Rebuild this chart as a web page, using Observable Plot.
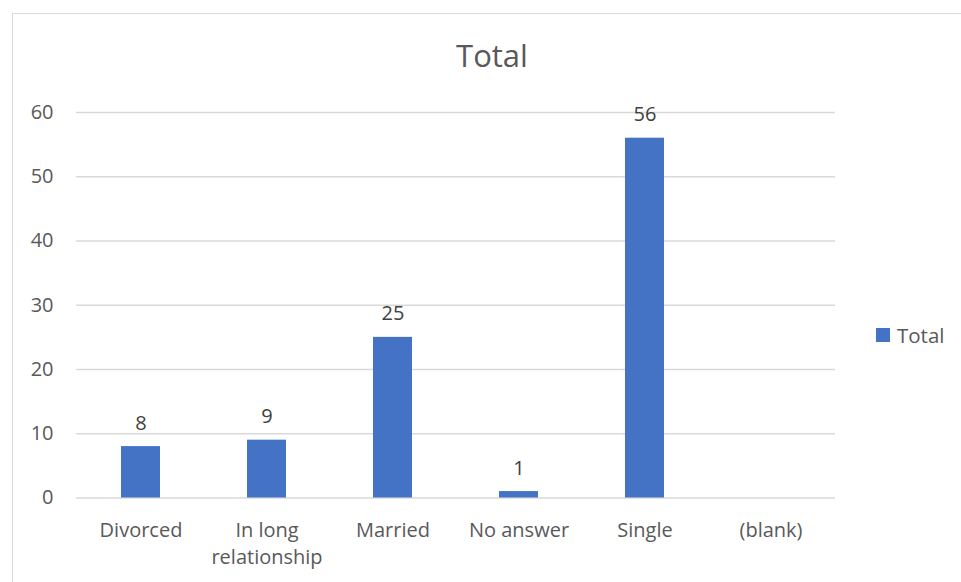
<!DOCTYPE html>
<html>
<head>
<meta charset="utf-8">
<script src="https://cdn.jsdelivr.net/npm/d3@7"></script>
<script src="https://cdn.jsdelivr.net/npm/@observablehq/plot@0.6"></script>
<style>
  html, body { margin: 0; padding: 0; background: #fff; }
  #wrap { position: relative; width: 961px; height: 582px; overflow: hidden; font-family: "Open Sans", sans-serif; }
  #frame { position: absolute; left: 12px; top: 13px; width: 960px; height: 600px; border: 1.5px solid #d9d9d9; box-sizing: border-box; }
  #title { position: absolute; left: 0; width: 984px; top: 34px; text-align: center; font-size: 31px; color: #595959; }
  #legend { position: absolute; left: 876px; top: 321px; font-size: 20.5px; color: #595959; display: flex; align-items: center; }
  #legend span.sw { display: inline-block; width: 14px; height: 14px; background: #4472c4; margin-right: 7px; }
  #chart { position: absolute; left: 0; top: 0; }
</style>
</head>
<body>
<div id="wrap">
  <div id="frame"></div>
  <div id="chart"></div>
  <div id="title">Total</div>
  <div id="legend"><span class="sw"></span>Total</div>
</div>
<script>
const categories = ["Divorced", "In long relationship", "Married", "No answer", "Single", "(blank)"];
const categoryLabels = ["Divorced", "In long\nrelationship", "Married", "No answer", "Single", "(blank)"];
const values = [8, 9, 25, 1, 56, null];
const yTicks = [0, 10, 20, 30, 40, 50, 60];

const data = categories.map((c, i) => ({category: c, value: values[i]}));
const barData = data.filter(d => d.value != null);
const labelMap = new Map(categories.map((c, i) => [c, categoryLabels[i]]));

const chart = Plot.plot({
  width: 961,
  height: 582,
  marginLeft: 76,
  marginRight: 126,
  marginTop: 112,
  marginBottom: 84.5,
  style: {fontFamily: "'Open Sans', sans-serif", fontSize: "20px", color: "#595959", background: "transparent"},
  x: {domain: categories, paddingInner: 0.69, paddingOuter: 0.345, label: null},
  y: {domain: [0, 60], label: null},
  marks: [
    Plot.ruleY(yTicks, {stroke: "#d9d9d9", strokeWidth: 1.5}),
    Plot.axisY({ticks: yTicks, tickSize: 0, tickPadding: 23, label: null, fontSize: 20}),
    Plot.axisX({tickSize: 0, tickPadding: 20, label: null, fontSize: 20, lineHeight: 1.35, tickFormat: d => labelMap.get(d)}),
    Plot.barY(barData, {x: "category", y: "value", fill: "#4472c4"}),
    Plot.text(barData, {x: "category", y: "value", text: d => String(d.value), dy: -17, lineAnchor: "bottom", fontSize: 20, fill: "#404040"})
  ]
});
document.getElementById("chart").appendChild(chart);
</script>
</body>
</html>
